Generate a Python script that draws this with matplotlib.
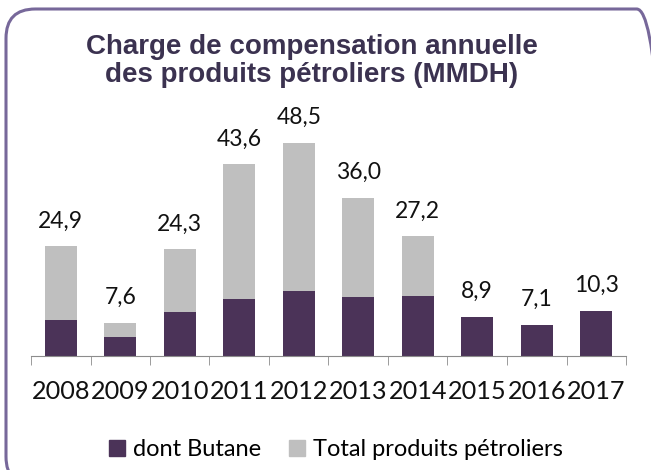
"""Charge de compensation annuelle - stacked bars"""

import matplotlib.pyplot as plt
from matplotlib.patches import FancyBboxPatch, Patch

years = ["2008", "2009", "2010", "2011", "2012", "2013", "2014", "2015", "2016", "2017"]
total = [24.9, 7.6, 24.3, 43.6, 48.5, 36.0, 27.2, 8.9, 7.1, 10.3]
butane = [8.2, 4.3, 9.9, 13.0, 14.8, 13.3, 13.7, 8.9, 7.1, 10.3]
labels = ["24,9", "7,6", "24,3", "43,6", "48,5", "36,0", "27,2", "8,9", "7,1", "10,3"]

dark = "#4b3358"
grey = "#bfbfbf"

fig = plt.figure(figsize=(6.51, 4.70), dpi=100)

# rounded frame around the whole chart (runs off the right and bottom edges)
frame = FancyBboxPatch((6 / 651, -16 / 470), 660 / 651, 477 / 470,
                       boxstyle="round,pad=0,rounding_size=0.045",
                       transform=fig.transFigure, facecolor="none",
                       edgecolor="#77689a", linewidth=2.2, mutation_aspect=651 / 470,
                       zorder=-1)
fig.patches.append(frame)

ax = fig.add_axes([31 / 651, 114 / 470, 595 / 651, 242 / 470])
ax.set_facecolor("none")

x = range(len(years))
rest = [t - b for t, b in zip(total, butane)]
ax.bar(x, butane, width=0.53, color=dark, label="dont Butane")
ax.bar(x, rest, width=0.53, bottom=butane, color=grey, label="Total produits pétroliers")

for i, t in enumerate(total):
    ax.text(i, t + 3.3, labels[i], ha="center", va="bottom",
            fontsize=16.5, family="Lato", color="#111111")

ax.set_xlim(-0.5, len(years) - 0.5)
ax.set_ylim(0, 55)
for s in ["top", "right", "left"]:
    ax.spines[s].set_visible(False)
ax.spines["bottom"].set_color("#8c8c8c")
ax.set_yticks([])
ax.set_xticks(list(x))
ax.set_xticklabels(years, family="Lato", fontsize=18.2, color="#111111")
ax.tick_params(axis="x", which="major", length=0, pad=17.5)
ax.set_xticks([i - 0.5 for i in range(len(years) + 1)], minor=True)
ax.tick_params(axis="x", which="minor", length=6.5, color="#8c8c8c")

fig.text(312 / 651, 1 - 34 / 470, "Charge de compensation annuelle\ndes produits pétroliers (MMDH)",
         ha="center", va="top", fontsize=20, fontweight="bold",
         family="Liberation Sans", color="#3b3250", linespacing=1.08)

handles = [Patch(color=dark), Patch(color=grey)]
fig.legend(handles, ["dont Butane", "Total produits pétroliers"], ncol=2,
           loc="center", bbox_to_anchor=(336 / 651, 1 - 450 / 470), frameon=False,
           prop={"family": "Lato", "size": 17}, handlelength=0.65, handleheight=0.65,
           handletextpad=0.35, columnspacing=1.2)

fig.savefig("out.png", dpi=100)
